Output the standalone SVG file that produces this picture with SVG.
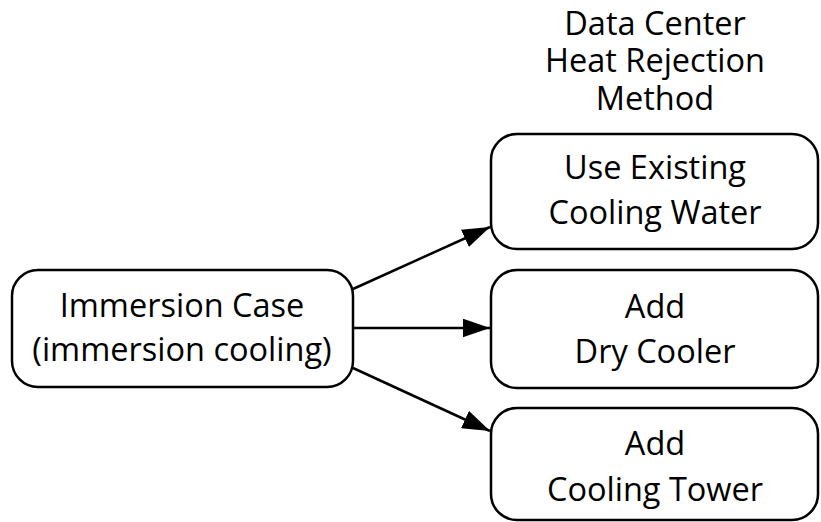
<svg xmlns="http://www.w3.org/2000/svg" width="821" height="522" viewBox="0 0 821 522">
<defs>
<style>
.box{fill:#fff;stroke:#000;stroke-width:2.5}
.t{font-family:"Open Sans","Liberation Sans",sans-serif;font-size:32.5px;fill:#000;text-anchor:middle}
.c{stroke:#000;stroke-width:2.5;fill:none;marker-end:url(#ah)}
</style>
<marker id="ah" viewBox="0 0 10 10" refX="10" refY="5" markerWidth="11" markerHeight="7.6" markerUnits="strokeWidth" orient="auto" preserveAspectRatio="none">
<path d="M0,0 L10,5 L0,10 z" fill="#000"/>
</marker>
</defs>
<rect width="821" height="522" fill="#fff"/>
<g id="title">
<text class="t"><tspan x="655" y="35">Data Center</tspan><tspan x="655" y="72">Heat Rejection</tspan><tspan x="655" y="110">Method</tspan></text>
</g>
<g id="connectors">
<line class="c" x1="353" y1="289" x2="490" y2="227"/>
<line class="c" x1="353" y1="328" x2="490" y2="328"/>
<line class="c" x1="353" y1="368" x2="490" y2="431"/>
</g>
<g id="immersion">
<rect class="box" x="12" y="270" width="341" height="117" rx="26"/>
<text class="t"><tspan x="182" y="317">Immersion Case</tspan><tspan x="182" y="361">(immersion cooling)</tspan></text>
</g>
<g id="existing">
<rect class="box" x="491" y="134" width="327" height="115" rx="26"/>
<text class="t"><tspan x="655" y="179">Use Existing</tspan><tspan x="655" y="224">Cooling Water</tspan></text>
</g>
<g id="drycooler">
<rect class="box" x="491" y="270" width="327" height="118" rx="26"/>
<text class="t"><tspan x="655" y="318">Add</tspan><tspan x="655" y="363">Dry Cooler</tspan></text>
</g>
<g id="tower">
<rect class="box" x="491" y="408" width="327" height="112" rx="26"/>
<text class="t"><tspan x="655" y="455">Add</tspan><tspan x="655" y="501">Cooling Tower</tspan></text>
</g>
</svg>
